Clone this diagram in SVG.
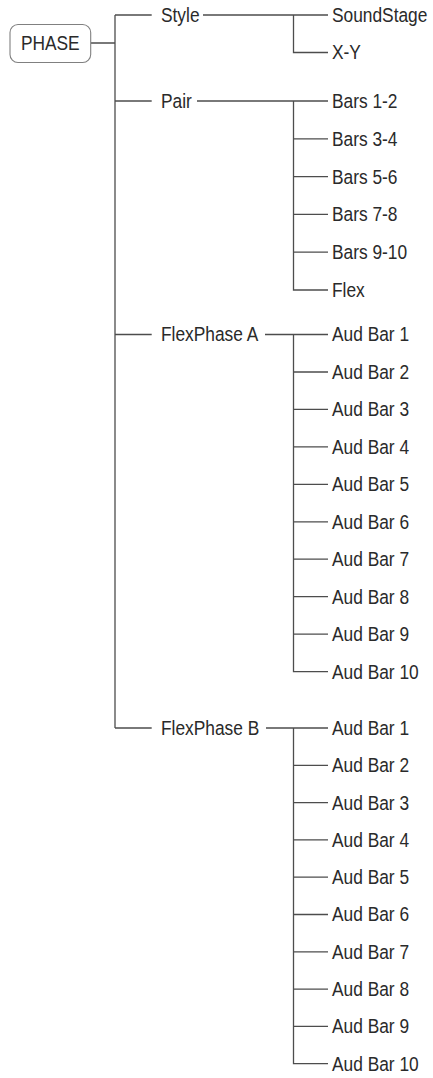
<svg xmlns="http://www.w3.org/2000/svg" width="433" height="1078" viewBox="0 0 433 1078">
<style>
text{font-family:"Liberation Sans",Arial,sans-serif;font-size:19.5px;fill:#2a2a2a}
.c{fill:none;stroke:#4d4d4d;stroke-width:1.3}
.box{fill:#fff;stroke:#808080;stroke-width:1.1}
</style>
<rect width="433" height="1078" fill="#fff"/>
<g id="connectors" class="c">
<path d="M90.7 43H115M115 15V728"/>
<path d="M115 15H151.7M203 15H328M293.5 15V52.5H328"/>
<path d="M115 101H151.7M197 101H328M293.5 101V290H328M293.5 138.8H328M293.5 176.6H328M293.5 214.4H328M293.5 252.2H328"/>
<path d="M115 334.5H151.7M265 334.5H328M293.5 334.5V671.6H328M293.5 372H328M293.5 409.4H328M293.5 446.9H328M293.5 484.3H328M293.5 521.8H328M293.5 559.2H328M293.5 596.7H328M293.5 634.1H328"/>
<path d="M115 728H151.7M266 728H328M293.5 728V1063.7H328M293.5 765.3H328M293.5 802.6H328M293.5 839.9H328M293.5 877.2H328M293.5 914.5H328M293.5 951.8H328M293.5 989.1H328M293.5 1026.4H328"/>
</g>
<g id="phase"><rect class="box" x="10" y="24.5" width="80.7" height="38" rx="8"/></g>
<g transform="scale(0.89 1)">
<g id="n-phase"><text x="56.5" y="50" text-anchor="middle">PHASE</text></g>
<g id="n-style"><text x="180.9" y="22">Style</text></g>
<g id="n-soundstage"><text x="373" y="22">SoundStage</text></g>
<g id="n-xy"><text x="373" y="59.5">X-Y</text></g>
<g id="n-pair"><text x="180.9" y="108">Pair</text></g>
<g id="n-bars12"><text x="373" y="108">Bars 1-2</text></g>
<g id="n-bars34"><text x="373" y="145.8">Bars 3-4</text></g>
<g id="n-bars56"><text x="373" y="183.6">Bars 5-6</text></g>
<g id="n-bars78"><text x="373" y="221.4">Bars 7-8</text></g>
<g id="n-bars910"><text x="373" y="259.2">Bars 9-10</text></g>
<g id="n-flex"><text x="373" y="297">Flex</text></g>
<g id="n-fpa"><text x="180.9" y="341.5">FlexPhase A</text></g>
<g id="n-a1"><text x="373" y="341.5">Aud Bar 1</text></g>
<g id="n-a2"><text x="373" y="379">Aud Bar 2</text></g>
<g id="n-a3"><text x="373" y="416.4">Aud Bar 3</text></g>
<g id="n-a4"><text x="373" y="453.9">Aud Bar 4</text></g>
<g id="n-a5"><text x="373" y="491.3">Aud Bar 5</text></g>
<g id="n-a6"><text x="373" y="528.8">Aud Bar 6</text></g>
<g id="n-a7"><text x="373" y="566.2">Aud Bar 7</text></g>
<g id="n-a8"><text x="373" y="603.7">Aud Bar 8</text></g>
<g id="n-a9"><text x="373" y="641.1">Aud Bar 9</text></g>
<g id="n-a10"><text x="373" y="678.6">Aud Bar 10</text></g>
<g id="n-fpb"><text x="180.9" y="735">FlexPhase B</text></g>
<g id="n-b1"><text x="373" y="735">Aud Bar 1</text></g>
<g id="n-b2"><text x="373" y="772.3">Aud Bar 2</text></g>
<g id="n-b3"><text x="373" y="809.6">Aud Bar 3</text></g>
<g id="n-b4"><text x="373" y="846.9">Aud Bar 4</text></g>
<g id="n-b5"><text x="373" y="884.2">Aud Bar 5</text></g>
<g id="n-b6"><text x="373" y="921.5">Aud Bar 6</text></g>
<g id="n-b7"><text x="373" y="958.8">Aud Bar 7</text></g>
<g id="n-b8"><text x="373" y="996.1">Aud Bar 8</text></g>
<g id="n-b9"><text x="373" y="1033.4">Aud Bar 9</text></g>
<g id="n-b10"><text x="373" y="1070.7">Aud Bar 10</text></g>
</g>
</svg>
